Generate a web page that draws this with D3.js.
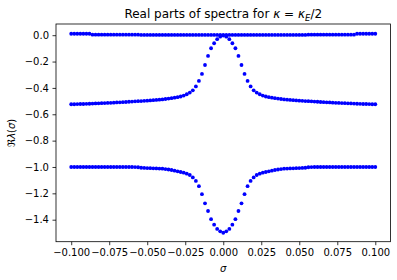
<!DOCTYPE html>
<html>
<head>
<meta charset="utf-8">
<script src="https://cdn.jsdelivr.net/npm/d3@7"></script>
<style>
  body { margin: 0; background: #fff; }
  svg { font-family: "DejaVu Sans", sans-serif; }
</style>
</head>
<body>
<div id="chart"></div>
<script>
// sigma grid and the three real parts
var sigma = [
  -0.100, -0.098, -0.096, -0.094, -0.092, -0.090, -0.088, -0.086, -0.084, -0.082,
  -0.080, -0.078, -0.076, -0.074, -0.072, -0.070, -0.068, -0.066, -0.064, -0.062,
  -0.060, -0.058, -0.056, -0.054, -0.052, -0.050, -0.048, -0.046, -0.044, -0.042,
  -0.040, -0.038, -0.036, -0.034, -0.032, -0.030, -0.028, -0.026, -0.024, -0.022,
  -0.020, -0.018, -0.016, -0.014, -0.012, -0.010, -0.008, -0.006, -0.004, -0.002,
  0.000,
  0.002, 0.004, 0.006, 0.008, 0.010, 0.012, 0.014, 0.016, 0.018, 0.020,
  0.022, 0.024, 0.026, 0.028, 0.030, 0.032, 0.034, 0.036, 0.038, 0.040,
  0.042, 0.044, 0.046, 0.048, 0.050, 0.052, 0.054, 0.056, 0.058, 0.060,
  0.062, 0.064, 0.066, 0.068, 0.070, 0.072, 0.074, 0.076, 0.078, 0.080,
  0.082, 0.084, 0.086, 0.088, 0.090, 0.092, 0.094, 0.096, 0.098, 0.100
];

var realTop = [
  0.011, 0.011, 0.011, 0.011, 0.011, 0.011, 0.011, 0.004, 0.004, 0.004,
  0.004, 0.004, 0.004, 0.004, 0.004, 0.004, 0.004, 0.004, 0.004, 0.004,
  0.004, 0.004, 0.004, 0.002, 0.002, 0.002, 0.002, 0.002, 0.002, 0.002,
  0.002, 0.002, 0.002, 0.002, 0.002, 0.002, 0.002, 0.002, 0.002, 0.002,
  0.002, 0.002, 0.002, 0.002, 0.002, 0.002, 0.002, 0.002, 0.002, 0.002,
  0.002,
  0.002, 0.002, 0.002, 0.002, 0.002, 0.002, 0.002, 0.002, 0.002, 0.002,
  0.002, 0.002, 0.002, 0.002, 0.002, 0.002, 0.002, 0.002, 0.002, 0.002,
  0.002, 0.002, 0.002, 0.002, 0.002, 0.002, 0.002, 0.004, 0.004, 0.004,
  0.004, 0.004, 0.004, 0.004, 0.004, 0.004, 0.004, 0.004, 0.004, 0.004,
  0.004, 0.004, 0.004, 0.011, 0.011, 0.011, 0.011, 0.011, 0.011, 0.011
];

var realMid = [
  -0.524, -0.524, -0.523, -0.522, -0.522, -0.521, -0.520, -0.519, -0.518, -0.517,
  -0.516, -0.515, -0.514, -0.513, -0.512, -0.510, -0.509, -0.508, -0.507, -0.505,
  -0.504, -0.502, -0.501, -0.500, -0.498, -0.497, -0.495, -0.493, -0.491, -0.489,
  -0.487, -0.484, -0.481, -0.478, -0.474, -0.470, -0.465, -0.458, -0.448, -0.435,
  -0.418, -0.389, -0.347, -0.294, -0.226, -0.157, -0.099, -0.061, -0.030, -0.011,
  -0.003,
  -0.011, -0.030, -0.061, -0.099, -0.157, -0.226, -0.294, -0.347, -0.389, -0.418,
  -0.435, -0.448, -0.458, -0.465, -0.470, -0.474, -0.478, -0.481, -0.484, -0.487,
  -0.489, -0.491, -0.493, -0.495, -0.497, -0.498, -0.500, -0.501, -0.502, -0.504,
  -0.505, -0.507, -0.508, -0.509, -0.510, -0.512, -0.513, -0.514, -0.515, -0.516,
  -0.517, -0.518, -0.519, -0.520, -0.521, -0.522, -0.522, -0.523, -0.524, -0.524
];

var realBot = [
  -1.000, -1.000, -1.000, -1.000, -1.000, -1.000, -1.000, -1.000, -1.000, -1.000,
  -1.000, -1.000, -1.000, -1.000, -1.000, -1.000, -1.000, -1.000, -1.000, -1.000,
  -1.000, -1.001, -1.002, -1.006, -1.007, -1.008, -1.009, -1.010, -1.011, -1.012,
  -1.013, -1.016, -1.019, -1.023, -1.028, -1.033, -1.038, -1.043, -1.051, -1.061,
  -1.079, -1.106, -1.146, -1.206, -1.276, -1.334, -1.396, -1.438, -1.470, -1.488,
  -1.499,
  -1.488, -1.470, -1.438, -1.396, -1.334, -1.276, -1.206, -1.146, -1.106, -1.079,
  -1.061, -1.051, -1.043, -1.038, -1.033, -1.028, -1.023, -1.019, -1.016, -1.013,
  -1.012, -1.011, -1.010, -1.009, -1.008, -1.007, -1.006, -1.002, -1.001, -1.000,
  -1.000, -1.000, -1.000, -1.000, -1.000, -1.000, -1.000, -1.000, -1.000, -1.000,
  -1.000, -1.000, -1.000, -1.000, -1.000, -1.000, -1.000, -1.000, -1.000, -1.000
];

var xTicks = [-0.100, -0.075, -0.050, -0.025, 0.000, 0.025, 0.050, 0.075, 0.100];
var yTicks = [0.0, -0.2, -0.4, -0.6, -0.8, -1.0, -1.2, -1.4];

var width = 397, height = 280;
var margin = {top: 24, right: 6.5, bottom: 38.3, left: 56};

var svg = d3.select("#chart").append("svg")
    .attr("width", width)
    .attr("height", height);

var x = d3.scaleLinear()
    .domain([-0.11, 0.11])
    .range([margin.left, width - margin.right]);

var y = d3.scaleLinear()
    .domain([-1.567, 0.085])
    .range([height - margin.bottom, margin.top]);

// points, one series after the other
var series = [realTop, realMid, realBot];
series.forEach(function(vals){
  svg.append("g")
    .selectAll("circle")
    .data(sigma)
    .enter().append("circle")
      .attr("cx", function(d){ return x(d); })
      .attr("cy", function(d, i){ return y(vals[i]); })
      .attr("r", 1.9)
      .attr("fill", "#0000ff");
});

// axes
var gx = svg.append("g")
    .attr("transform", "translate(0," + (height - margin.bottom) + ")")
    .call(d3.axisBottom(x).tickValues(xTicks).tickFormat(d3.format(".3f"))
      .tickSize(3.5).tickPadding(3.5));

var gy = svg.append("g")
    .attr("transform", "translate(" + margin.left + ",0)")
    .call(d3.axisLeft(y).tickValues(yTicks).tickFormat(d3.format(".1f"))
      .tickSize(3.5).tickPadding(3.5));

[gx, gy].forEach(function(g){
  g.select(".domain").remove();
  g.selectAll("line").attr("stroke", "#000").attr("stroke-width", 0.8);
  g.selectAll("text")
    .attr("fill", "#000")
    .style("font-size", "10px")
    .style("font-family", "DejaVu Sans");
});

// frame
svg.append("rect")
    .attr("x", margin.left)
    .attr("y", margin.top)
    .attr("width", width - margin.left - margin.right)
    .attr("height", height - margin.top - margin.bottom)
    .attr("fill", "none")
    .attr("stroke", "#000")
    .attr("stroke-width", 0.8);

// title
var cx = (margin.left + width - margin.right) / 2;
var title = svg.append("text")
    .attr("x", cx)
    .attr("y", 18)
    .attr("text-anchor", "middle")
    .style("font-size", "12px")
    .attr("fill", "#000");
title.append("tspan").text("Real parts of spectra for ");
title.append("tspan").attr("font-style", "italic").text("κ");
title.append("tspan").text(" = ");
title.append("tspan").attr("font-style", "italic").text("κ");
title.append("tspan").attr("font-style", "italic").attr("font-size", "8.5px").attr("dy", 2.5).text("E");
title.append("tspan").attr("dy", -2.5).text("/2");

// x label
svg.append("text")
    .attr("x", cx)
    .attr("y", 272)
    .attr("text-anchor", "middle")
    .attr("font-style", "italic")
    .style("font-size", "10px")
    .attr("fill", "#000")
    .text("σ");

// y label
var cy = (margin.top + height - margin.bottom) / 2;
var ylab = svg.append("text")
    .attr("transform", "translate(15," + cy + ") rotate(-90)")
    .attr("text-anchor", "middle")
    .style("font-size", "10px")
    .attr("fill", "#000");
ylab.append("tspan").text("ℜ");
ylab.append("tspan").attr("font-style", "italic").text("λ");
ylab.append("tspan").text("(");
ylab.append("tspan").attr("font-style", "italic").text("σ");
ylab.append("tspan").text(")");
</script>
</body>
</html>
